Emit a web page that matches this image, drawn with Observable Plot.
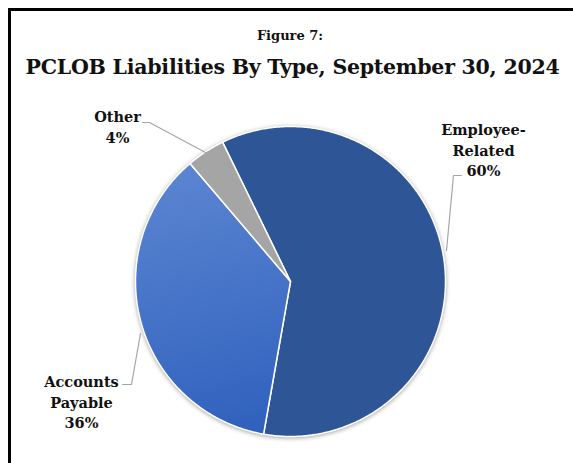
<!DOCTYPE html>
<html>
<head>
<meta charset="utf-8">
<script src="https://cdn.jsdelivr.net/npm/d3@7"></script>
<script src="https://cdn.jsdelivr.net/npm/@observablehq/plot@0.6"></script>
<style>
  html, body { margin: 0; padding: 0; background: #fff; }
  body { width: 573px; height: 463px; position: relative; overflow: hidden; }
  .frame { position: absolute; left: 8px; top: 8px; width: 620px; height: 520px;
           border-left: 3px solid #000; border-top: 3px solid #000; }
  .fig { position: absolute; left: 0; width: 580px; top: 28px; text-align: center;
         font-family: "DejaVu Serif", serif; font-weight: bold; font-size: 13px; color: #111; }
  .title { position: absolute; left: 0; width: 585px; top: 55px; text-align: center;
           font-family: "DejaVu Serif", serif; font-weight: bold; font-size: 20.5px; color: #111;
           letter-spacing: -0.25px; white-space: nowrap; }
  #chart { position: absolute; left: 0; top: 90px; }
</style>
</head>
<body>
<div class="frame"></div>
<div class="fig">Figure 7:</div>
<div class="title">PCLOB Liabilities By Type, September 30, 2024</div>
<div id="chart"></div>
<script>
// ---- data ----
const categories = ["Employee-Related", "Accounts Payable", "Other"];
const shares = [60, 36, 4];
const labelTexts = ["Employee-\nRelated\n60%", "Accounts\nPayable\n36%", "Other\n4%"];

// ---- layout / style (not data) ----
const W = 573, H = 373;
const cx = 290, cy = 191, R = 155;
const startDeg = -26;
const fills = { "Employee-Related": "#2E5596", "Accounts Payable": "url(#apGrad)", "Other": "#A5A5A5" };
const labelPos = {
  "Employee-Related": [483, 30],
  "Accounts Payable": [81, 282],
  "Other": [117, 17]
};
const leaders = {
  "Employee-Related": [[461, 85], [453, 85], [446, 160]],
  "Accounts Payable": [[122, 294], [131, 294], [140, 243]],
  "Other": [[142, 32], [149, 32], [205, 62]]
};

// ---- build slices ----
const rows = categories.map((c, i) => ({ name: c, value: shares[i], label: labelTexts[i] }));
const arcs = d3.pie().sort(null).value(d => d.value)
  .startAngle(startDeg * Math.PI / 180)
  .endAngle(startDeg * Math.PI / 180 + 2 * Math.PI)(rows);

const slicePts = [];
for (const a of arcs) {
  const n = Math.max(4, Math.ceil((a.endAngle - a.startAngle) / (Math.PI / 360)));
  slicePts.push({ name: a.data.name, px: cx, py: cy });
  for (let k = 0; k <= n; k++) {
    const t = a.startAngle + (a.endAngle - a.startAngle) * k / n;
    slicePts.push({ name: a.data.name, px: cx + R * Math.sin(t), py: cy - R * Math.cos(t) });
  }
}

const leaderPts = [];
for (const c of categories) for (const p of leaders[c]) leaderPts.push({ name: c, px: p[0], py: p[1] });

const labelRows = rows.map(r => ({ ...r, px: labelPos[r.name][0], py: labelPos[r.name][1] }));

const plot = Plot.plot({
  width: W, height: H,
  margin: 0,
  x: { domain: [0, W], range: [0, W], axis: null },
  y: { domain: [0, H], range: [0, H], axis: null },
  color: { type: "identity" },
  style: { fontFamily: "DejaVu Serif, serif", background: "transparent", overflow: "visible" },
  marks: [
    Plot.line(slicePts, { x: "px", y: "py", z: "name", fill: d => fills[d.name],
      stroke: "#fff", strokeWidth: 1.5, curve: "linear-closed", strokeLinejoin: "round" }),
    Plot.line(leaderPts, { x: "px", y: "py", z: "name", stroke: "#A6A6A6", strokeWidth: 1.2 }),
    Plot.text(labelRows, { x: "px", y: "py", text: "label", lineAnchor: "top",
      fontSize: 14.5, fontWeight: "bold", fill: "#111", lineHeight: 1.42 })
  ]
});

const svg = d3.select(plot);
const defs = svg.insert("defs", ":first-child");
const g = defs.append("linearGradient").attr("id", "apGrad")
  .attr("gradientUnits", "userSpaceOnUse")
  .attr("x1", 170).attr("y1", 70).attr("x2", 240).attr("y2", 345);
g.append("stop").attr("offset", "0%").attr("stop-color", "#5D86D2");
g.append("stop").attr("offset", "100%").attr("stop-color", "#2F61BD");
svg.select("g[aria-label='line']").style("filter", "drop-shadow(0px 1px 2px rgba(0,0,0,0.35))");

document.getElementById("chart").appendChild(plot);
</script>
</body>
</html>
